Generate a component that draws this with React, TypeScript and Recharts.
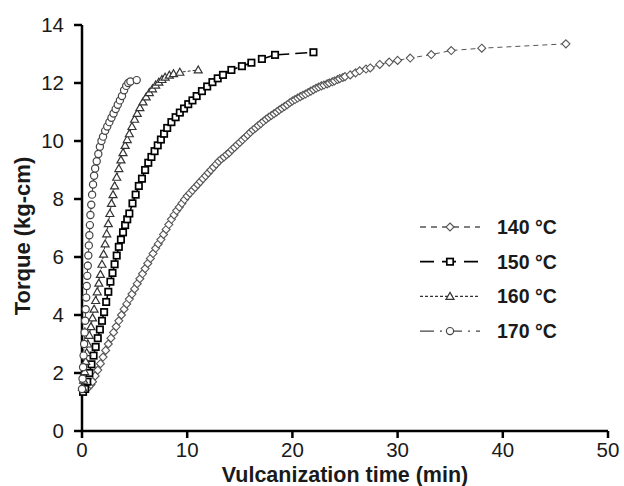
import { LineChart, Line, XAxis, YAxis, Legend } from "recharts";

// vulcanization time (min) and torque (kg-cm)
const time140 = [0.3, 0.6, 0.85, 1.0, 1.25, 1.5, 1.75, 2.0, 2.25, 2.5, 2.75, 3.0, 3.25, 3.5, 3.75, 4.0, 4.25, 4.5, 4.75, 5.0, 5.25, 5.5, 5.75, 6.0, 6.25, 6.5, 6.75, 7.0, 7.25, 7.5, 7.75, 8.0, 8.25, 8.5, 8.75, 9.0, 9.25, 9.5, 9.75, 10.0, 10.25, 10.5, 10.75, 11.0, 11.25, 11.5, 11.75, 12.0, 12.25, 12.5, 12.75, 13.0, 13.25, 13.5, 13.75, 14.0, 14.25, 14.5, 14.75, 15.0, 15.25, 15.5, 15.75, 16.0, 16.25, 16.5, 16.75, 17.0, 17.25, 17.5, 17.75, 18.0, 18.25, 18.5, 18.75, 19.0, 19.25, 19.5, 19.75, 20.0, 20.25, 20.5, 20.75, 21.0, 21.25, 21.5, 21.75, 22.0, 22.25, 22.5, 22.75, 23.0, 23.3, 23.5, 23.8, 24.0, 24.3, 24.5, 24.8, 25.0, 25.5, 26.0, 26.4, 27.0, 27.4, 28.3, 29.2, 30.0, 31.2, 33.2, 35.1, 38.0, 46.0];
const torque140 = [1.45, 1.5, 1.6, 1.7, 1.9, 2.1, 2.32, 2.55, 2.78, 3.0, 3.2, 3.4, 3.6, 3.8, 4.0, 4.2, 4.38, 4.55, 4.72, 4.9, 5.08, 5.25, 5.42, 5.6, 5.78, 5.95, 6.12, 6.3, 6.45, 6.6, 6.78, 6.95, 7.12, 7.3, 7.45, 7.6, 7.72, 7.85, 7.98, 8.1, 8.2, 8.3, 8.4, 8.5, 8.6, 8.7, 8.8, 8.9, 9.0, 9.1, 9.2, 9.3, 9.38, 9.45, 9.53, 9.6, 9.7, 9.78, 9.87, 9.95, 10.04, 10.12, 10.21, 10.3, 10.38, 10.45, 10.53, 10.6, 10.68, 10.75, 10.82, 10.88, 10.94, 11.0, 11.07, 11.13, 11.19, 11.25, 11.32, 11.38, 11.43, 11.48, 11.53, 11.58, 11.62, 11.67, 11.72, 11.77, 11.82, 11.86, 11.9, 11.93, 11.97, 12.0, 12.04, 12.07, 12.12, 12.15, 12.19, 12.22, 12.28, 12.35, 12.42, 12.48, 12.52, 12.64, 12.72, 12.78, 12.86, 12.98, 13.12, 13.2, 13.35];

const time150 = [0.1, 0.3, 0.5, 0.7, 0.9, 1.1, 1.3, 1.5, 1.7, 1.9, 2.1, 2.3, 2.5, 2.7, 2.9, 3.1, 3.3, 3.5, 3.7, 3.9, 4.1, 4.3, 4.5, 4.8, 5.1, 5.4, 5.7, 6.0, 6.3, 6.6, 6.9, 7.2, 7.5, 7.8, 8.1, 8.5, 8.9, 9.3, 9.7, 10.1, 10.5, 10.9, 11.4, 11.9, 12.4, 12.9, 13.4, 14.2, 15.2, 16.1, 17.1, 18.35, 22.0];
const torque150 = [1.35, 1.45, 1.7, 2.0, 2.3, 2.6, 2.9, 3.2, 3.5, 3.8, 4.1, 4.45, 4.8, 5.15, 5.45, 5.75, 6.05, 6.35, 6.6, 6.85, 7.1, 7.3, 7.5, 7.85, 8.15, 8.45, 8.7, 9.0, 9.25, 9.45, 9.65, 9.85, 10.05, 10.25, 10.45, 10.65, 10.82, 10.98, 11.12, 11.27, 11.4, 11.55, 11.72, 11.88, 12.03, 12.16, 12.28, 12.45, 12.58, 12.7, 12.83, 12.97, 13.06];

const time160 = [0.05, 0.15, 0.25, 0.35, 0.45, 0.55, 0.7, 0.85, 1.0, 1.15, 1.3, 1.45, 1.6, 1.75, 1.9, 2.05, 2.2, 2.35, 2.5, 2.65, 2.8, 2.95, 3.1, 3.3, 3.5, 3.7, 3.9, 4.1, 4.3, 4.5, 4.75, 5.0, 5.25, 5.5, 5.8, 6.1, 6.4, 6.7, 7.0, 7.3, 7.6, 7.9, 8.3, 8.7, 9.3, 11.05];
const torque160 = [1.5, 1.75, 2.05, 2.4, 2.7, 3.0, 3.3, 3.6, 3.9, 4.2, 4.5, 4.8, 5.1, 5.4, 5.75, 6.1, 6.45, 6.8, 7.15, 7.5, 7.85, 8.15, 8.45, 8.75, 9.05, 9.35, 9.6, 9.85, 10.05, 10.25, 10.5, 10.75, 10.95, 11.15, 11.35, 11.52, 11.67, 11.8, 11.93, 12.03, 12.12, 12.2, 12.27, 12.32, 12.37, 12.45];

const time170 = [0.0, 0.05, 0.1, 0.15, 0.2, 0.25, 0.3, 0.35, 0.4, 0.45, 0.5, 0.55, 0.6, 0.65, 0.7, 0.75, 0.8, 0.88, 0.96, 1.05, 1.15, 1.25, 1.4, 1.55, 1.7, 1.85, 2.0, 2.2, 2.4, 2.6, 2.8, 3.0, 3.2, 3.4, 3.6, 3.8, 4.0, 4.2, 4.4, 4.6, 5.2];
const torque170 = [1.45, 1.8, 2.2, 2.6, 3.0, 3.4, 3.8, 4.2, 4.6, 5.0, 5.35, 5.7, 6.05, 6.4, 6.75, 7.1, 7.45, 7.8, 8.15, 8.5, 8.8, 9.05, 9.3, 9.55, 9.8, 10.0, 10.15, 10.35, 10.5, 10.65, 10.8, 10.95, 11.1, 11.25, 11.4, 11.55, 11.75, 11.9, 12.0, 12.05, 12.1];

const xTicks = [0, 10, 20, 30, 40, 50];
const yTicks = [0, 2, 4, 6, 8, 10, 12, 14];
const seriesNames = ["140 °C", "150 °C", "160 °C", "170 °C"];

const zip = (t: number[], q: number[]) => t.map((x, i) => ({ t: x, q: q[i] }));

const series = [
  { name: seriesNames[0], data: zip(time140, torque140), shape: "diamond", color: "#555", width: 1, dash: "5 4", legendDash: "6 5" },
  { name: seriesNames[1], data: zip(time150, torque150), shape: "square", color: "#000", width: 1.5, dash: "12 6", legendDash: "14 8" },
  { name: seriesNames[2], data: zip(time160, torque160), shape: "triangle", color: "#333", width: 1, dash: "3 2", legendDash: "3 2" },
  { name: seriesNames[3], data: zip(time170, torque170), shape: "circle", color: "#444", width: 1, dash: "12 4 2 4", legendDash: "14 6 2 6" },
];

const font = "Liberation Sans, Arial, sans-serif";

function Marker({ shape, cx, cy, color }: { shape: string; cx: number; cy: number; color: string }) {
  if (shape === "diamond")
    return <path d={`M${cx},${cy - 4}L${cx + 4},${cy}L${cx},${cy + 4}L${cx - 4},${cy}Z`} fill="#fff" stroke={color} strokeWidth={1.1} />;
  if (shape === "square")
    return <rect x={cx - 3.2} y={cy - 3.2} width={6.4} height={6.4} fill="#fff" stroke={color} strokeWidth={1.7} />;
  if (shape === "triangle")
    return <path d={`M${cx},${cy - 4}L${cx + 4},${cy + 3}L${cx - 4},${cy + 3}Z`} fill="#fff" stroke={color} strokeWidth={1.2} />;
  return <circle cx={cx} cy={cy} r={3.6} fill="#fff" stroke={color} strokeWidth={1.2} />;
}

const makeDot = (shape: string, color: string) => (p: any) => {
  if (p.cx == null || p.cy == null) return <g key={`${shape}-${p.index}`} />;
  return (
    <g key={`${shape}-${p.index}`}>
      <Marker shape={shape} cx={p.cx} cy={p.cy} color={color} />
    </g>
  );
};

function LegendBox() {
  return (
    <svg width={190} height={135}>
      {series.map((s, i) => {
        const y = 15 + i * 34.7;
        return (
          <g key={s.name}>
            <line x1={5} x2={65} y1={y} y2={y} stroke={s.color} strokeWidth={s.width + 0.3} strokeDasharray={s.legendDash} />
            <Marker shape={s.shape} cx={35} cy={y} color={s.color} />
            <text x={82} y={y} dominantBaseline="central" fontSize={19.5} fontWeight="bold" fill="#1a1a1a" fontFamily={font}>
              {s.name}
            </text>
          </g>
        );
      })}
    </svg>
  );
}

const tickStyle = { fontSize: 20.5, fill: "#1a1a1a", fontFamily: font };

export default function App() {
  return (
    <div style={{ position: "absolute", left: 0, top: 0, background: "#fff" }}>
      <LineChart width={624} height={486} margin={{ top: 25, right: 16, bottom: 5, left: 0 }}>
        <XAxis
          type="number"
          dataKey="t"
          domain={[0, 50]}
          ticks={xTicks}
          tick={tickStyle}
          tickSize={7}
          tickMargin={4}
          height={50}
          stroke="#000"
          strokeWidth={2.5}
          tickLine={{ stroke: "#000", strokeWidth: 2.5 }}
          allowDuplicatedCategory={false}
          label={{ value: "Vulcanization time (min)", position: "insideBottom", offset: -1, style: { fontSize: 21.5, fontWeight: "bold", fill: "#1a1a1a", fontFamily: font } }}
        />
        <YAxis
          type="number"
          dataKey="q"
          domain={[0, 14]}
          ticks={yTicks}
          tick={tickStyle}
          tickSize={8}
          tickMargin={10}
          width={82}
          stroke="#000"
          strokeWidth={2.5}
          tickLine={{ stroke: "#000", strokeWidth: 2.5 }}
          label={{ value: "Torque (kg-cm)", angle: -90, position: "insideLeft", offset: 22, dy: 8, style: { textAnchor: "middle", fontSize: 22, fontWeight: "bold", fill: "#1a1a1a", fontFamily: font } }}
        />
        <Legend
          layout="vertical"
          align="center"
          verticalAlign="middle"
          content={() => <LegendBox />}
          wrapperStyle={{ left: 415, top: 212, width: 190 }}
        />
        {series.map((s) => (
          <Line
            key={s.name}
            name={s.name}
            data={s.data}
            dataKey="q"
            type="linear"
            stroke={s.color}
            strokeWidth={s.width}
            strokeDasharray={s.dash}
            dot={makeDot(s.shape, s.color)}
            activeDot={false}
            isAnimationActive={false}
          />
        ))}
      </LineChart>
    </div>
  );
}
